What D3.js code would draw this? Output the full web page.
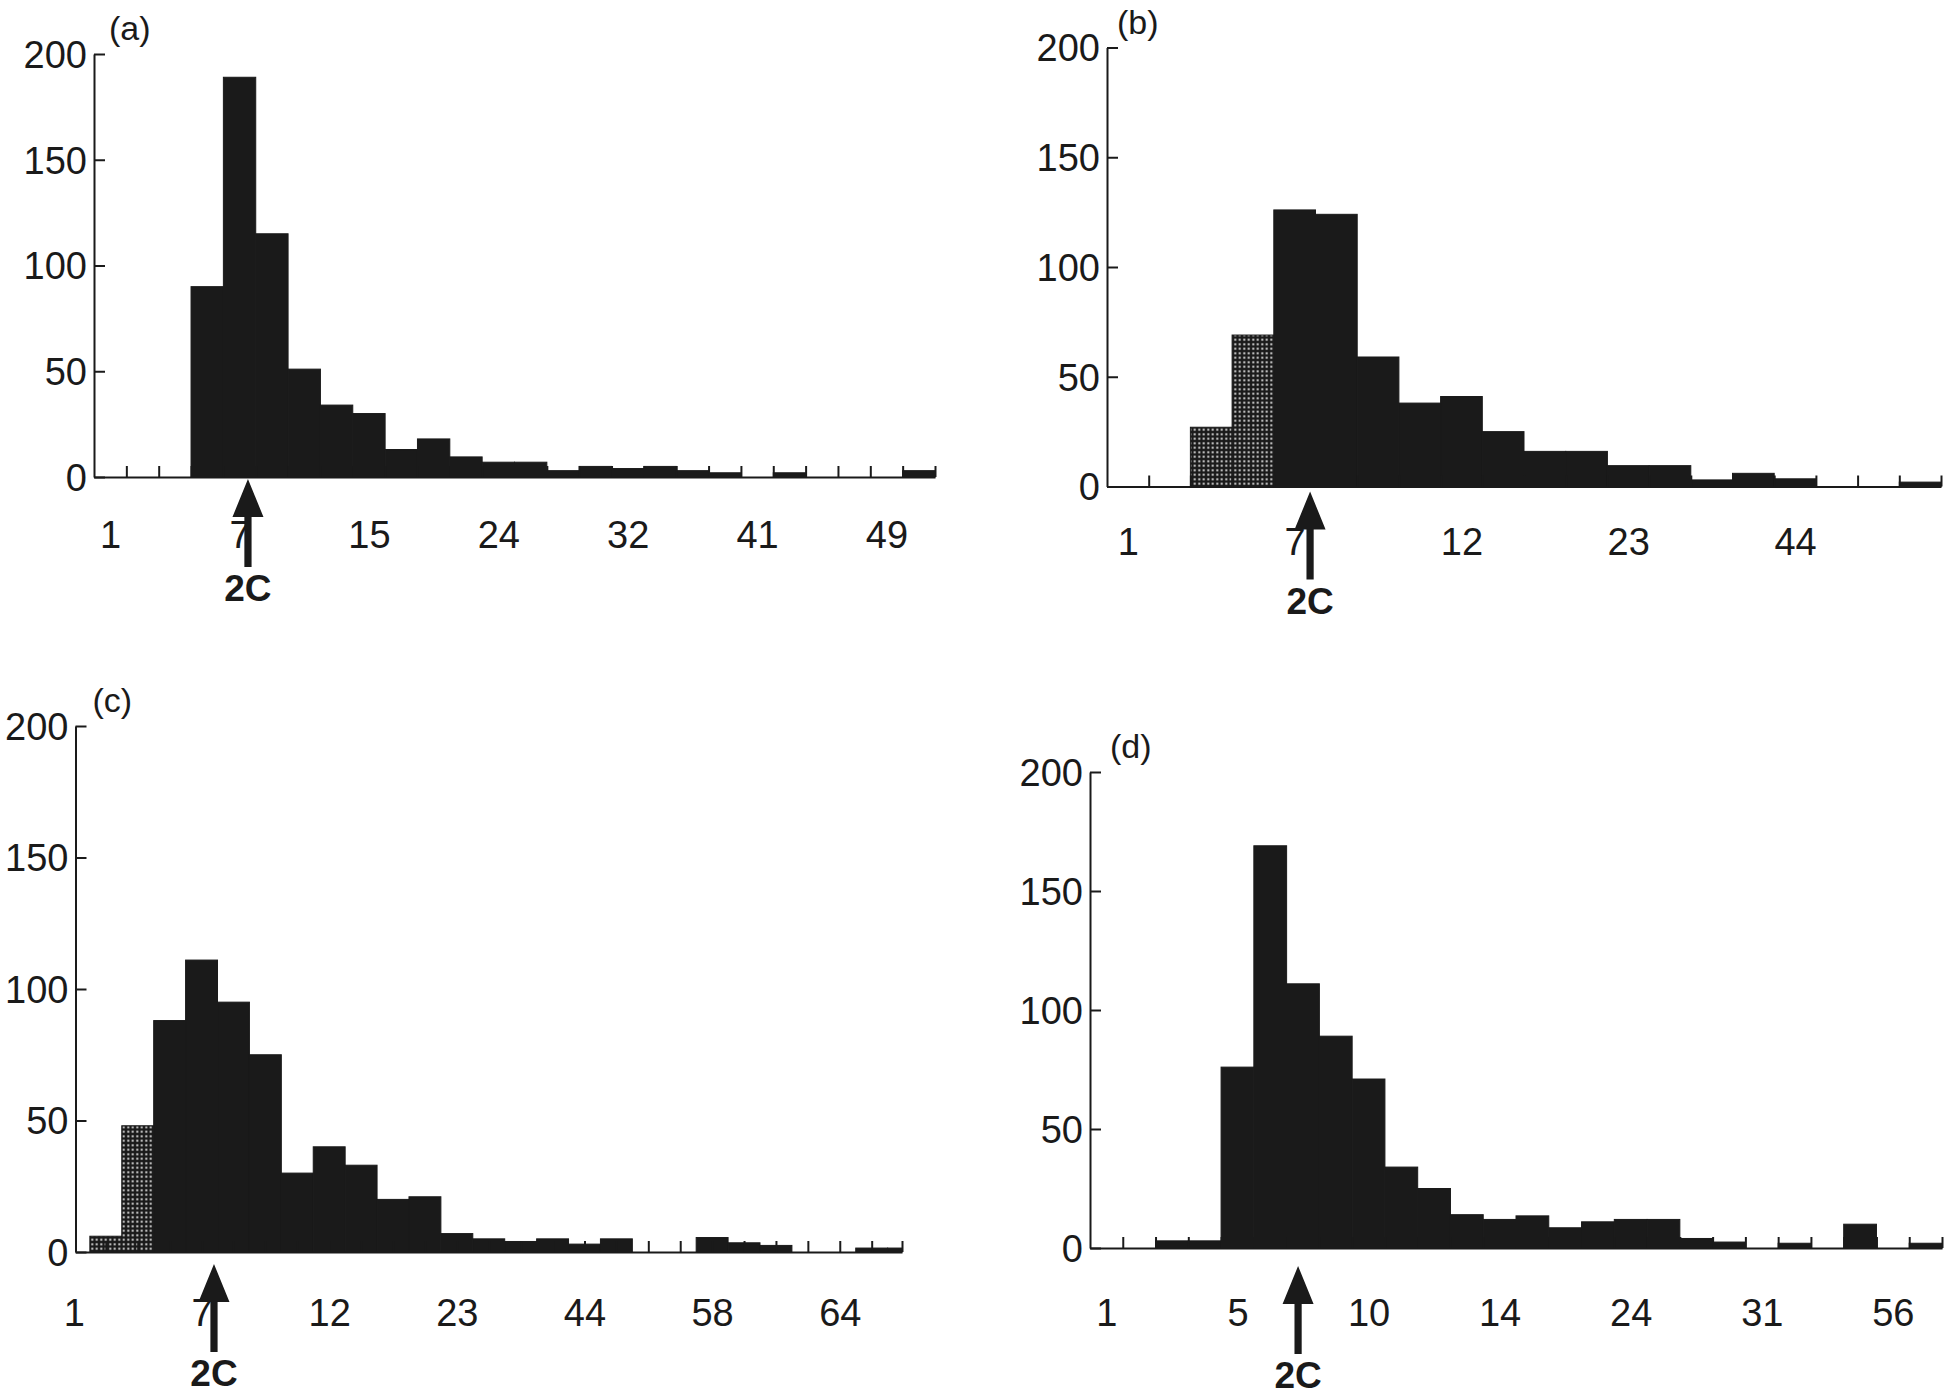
<!DOCTYPE html>
<meta charset="utf-8">
<style>
    body { margin: 0; background: #fff; }
    text { font-family: "Liberation Sans", Arial, Helvetica, sans-serif; fill: #1a1a1a; }
    .domain, .tick line { stroke: #1a1a1a; stroke-width: 2; }
    .lbl text { font-size: 38px; }
    .name { font-size: 34px; }
    .twoc { font-size: 37px; font-weight: bold; }
</style>
<script src="https://d3js.org/d3.v7.min.js"></script>

<div id="chart"></div>

<script>
// counts per size class (one value per bin)
var countsA = [0,0,0,90,189,115,51,34,30,13,18,9.5,7,7,3,5,4,5,3,2,0,2,0,0,0,3];
var countsB = [0,0,27,69,126,124,59,38,41,25,16,16,9.5,9.5,3,6,3.5,0,0,2];
var countsC = [0,6,48,88,111,95,75,30,40,33,20,21,7,5,4,5,3,5,0,0,5.5,3.5,2.5,0,0,1.5,1.5];
var countsD = [0,0,3,3,76,169,111,89,71,34,25,14,12,13.5,8.5,11,12,12,4,2.5,0,2,0,10,0,2];

// class labels, one every 4th bin
var labelsA = ["1","7","15","24","32","41","49"];
var labelsB = ["1","7","12","23","44"];
var labelsC = ["1","7","12","23","44","58","64"];
var labelsD = ["1","5","10","14","24","31","56"];

// bins drawn with the dotted fill
var dottedB = [2,3];
var dottedC = [1,2];

// where the 2C arrow points (bin units)
var arrowA = 4.76, arrowB = 4.87, arrowC = 4.89, arrowD = 6.35;

var yTicks = [0,50,100,150,200];

var panels = [
    {name:"(a)", counts:countsA, labels:labelsA, dotted:[], arrow:arrowA,
     dom:[0,26], xr:[94,935], yr:[477,54], tickOff:0, labelDy:71, arrowGap:2, nameDx:15},
    {name:"(b)", counts:countsB, labels:labelsB, dotted:dottedB, arrow:arrowB,
     dom:[0,20], xr:[1107,1941], yr:[486.5,47.5], tickOff:0, labelDy:68, arrowGap:5, nameDx:10},
    {name:"(c)", counts:countsC, labels:labelsC, dotted:dottedC, arrow:arrowC,
     dom:[0.55,26.45], xr:[75.5,902], yr:[1252,726], tickOff:0.5, labelDy:74, arrowGap:12, nameDx:17},
    {name:"(d)", counts:countsD, labels:labelsD, dotted:[], arrow:arrowD,
     dom:[0,26], xr:[1090,1942], yr:[1248,772], tickOff:0, labelDy:78, arrowGap:18, nameDx:20}
];

var svg = d3.select("#chart")
  .append("svg")
    .attr("width", 1950)
    .attr("height", 1397);

// dotted fill
var pat = svg.append("defs").append("pattern")
    .attr("id", "dots")
    .attr("patternUnits", "userSpaceOnUse")
    .attr("width", 4.5).attr("height", 4.5);
pat.append("rect").attr("width", 4.5).attr("height", 4.5).attr("fill", "#1a1a1a");
pat.append("rect").attr("x", 1.3).attr("y", 1.3).attr("width", 1.9).attr("height", 1.9).attr("fill", "#e8e8e8");

panels.forEach(function(p) {
    var g = svg.append("g");

    var x = d3.scaleLinear().domain(p.dom).range(p.xr);
    var y = d3.scaleLinear().domain([0, 200]).range(p.yr);

    var bins = p.counts.map(function(v, i) { return {i: i, v: v}; })
        .filter(function(d) { return d.v > 0; });

    // bars
    g.selectAll("rect.bar")
        .data(bins)
        .join("rect")
        .attr("class", "bar")
        .attr("x", function(d) { return x(Math.max(d.i, p.dom[0])); })
        .attr("width", function(d) { return x(Math.min(d.i + 1, p.dom[1])) - x(Math.max(d.i, p.dom[0])); })
        .attr("y", function(d) { return y(d.v); })
        .attr("height", function(d) { return y(0) - y(d.v); })
        .attr("fill", function(d) { return p.dotted.indexOf(d.i) >= 0 ? "url(#dots)" : "#1a1a1a"; })
        .attr("stroke", "#1a1a1a")
        .attr("stroke-width", 1);

    // x axis: inward ticks on the bins
    var tv = d3.range(1 + p.tickOff, p.dom[1], 1).concat([p.dom[1]]);
    g.append("g")
        .attr("transform", "translate(0," + y(0) + ")")
        .call(d3.axisBottom(x).tickValues(tv).tickSize(-11).tickSizeOuter(0).tickFormat(""));

    // x labels under every 4th bin
    var lv = p.labels.map(function(l, k) { return 4 * k + 0.5; });
    var xl = g.append("g")
        .attr("class", "lbl")
        .attr("transform", "translate(0," + y(0) + ")")
        .call(d3.axisBottom(x).tickValues(lv).tickSize(0)
            .tickFormat(function(d, k) { return p.labels[k]; }));
    xl.select(".domain").remove();
    xl.selectAll("text").attr("y", p.labelDy).attr("dy", null);

    // y axis
    g.append("g")
        .attr("class", "lbl")
        .attr("transform", "translate(" + p.xr[0] + ",0)")
        .call(d3.axisLeft(y).tickValues(yTicks).tickSize(-11).tickPadding(7).tickSizeOuter(0))
        .selectAll("text").attr("dy", "0.35em");

    // panel name
    g.append("text")
        .attr("class", "name")
        .attr("x", p.xr[0] + p.nameDx)
        .attr("y", y(200) - 14)
        .text(p.name);

    // 2C arrow
    var ax = x(p.arrow), ty = y(0) + p.arrowGap;
    g.append("path")
        .attr("d", "M" + ax + "," + ty +
            " L" + (ax + 15.5) + "," + (ty + 38) +
            " L" + (ax + 3.6) + "," + (ty + 38) +
            " L" + (ax + 3.6) + "," + (ty + 88) +
            " L" + (ax - 3.6) + "," + (ty + 88) +
            " L" + (ax - 3.6) + "," + (ty + 38) +
            " L" + (ax - 15.5) + "," + (ty + 38) + " Z")
        .attr("fill", "#1a1a1a");

    g.append("text")
        .attr("class", "twoc")
        .attr("x", ax)
        .attr("y", ty + 122)
        .attr("text-anchor", "middle")
        .text("2C");
});
</script>
